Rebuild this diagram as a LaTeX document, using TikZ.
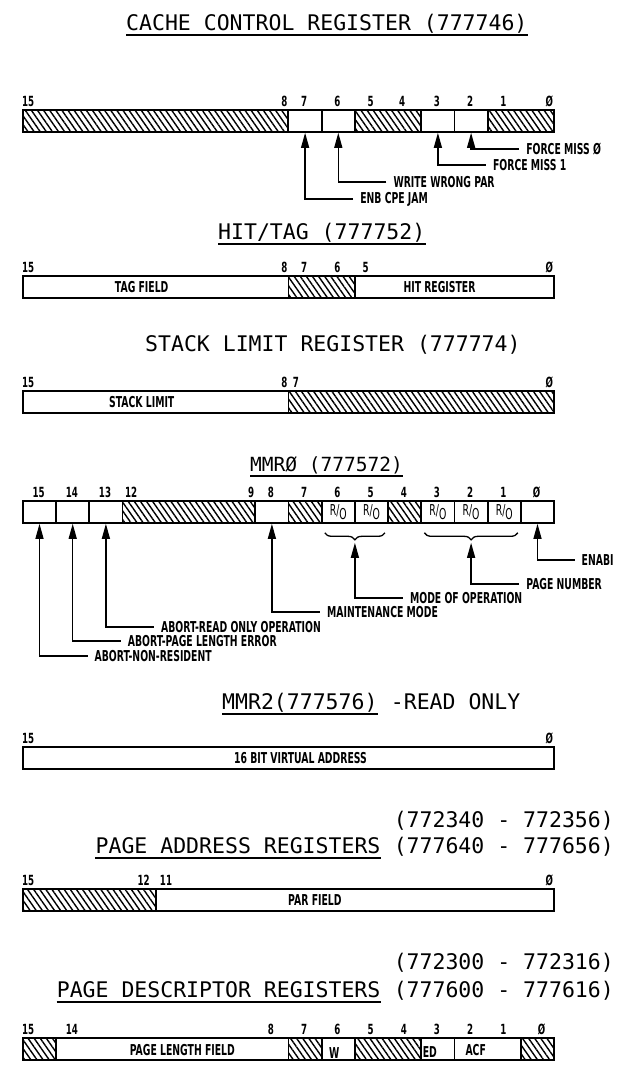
\documentclass[tikz,border=0pt]{standalone}
\usepackage{fontspec}
\newfontfamily\ttlfont{DejaVu Sans Mono}
\newfontfamily\lblfont[FakeStretch=0.62]{DejaVu Sans}
\usetikzlibrary{arrows.meta,positioning,patterns.meta,decorations.pathreplacing,calc}
\def\bx{22}
\def\bw{33.2}
\newcommand\ro{\normalfont\lblfont\fontsize{15}{16}\selectfont R/\raisebox{-4pt}{O}}
\tikzset{
  ttl/.style={font=\ttlfont\fontsize{21.5}{24}\selectfont,inner sep=0pt},
  lbl/.style={font=\lblfont\bfseries\fontsize{15}{16}\selectfont,inner sep=0pt},
  bitno/.style={font=\lblfont\bfseries\fontsize{14}{15}\selectfont,inner sep=0pt},
  fld/.style={draw,line width=1.8pt,minimum height=22pt,inner sep=0pt,anchor=north west},
  hatch/.style={fld,pattern={Lines[angle=-55,distance=5pt,line width=1.4pt]}},
  ptr/.style={line width=1.3pt,-{Triangle[length=15pt,width=8pt]}},
  uline/.style={line width=1.7pt},
  brc/.style={decorate,decoration={brace,amplitude=7pt,mirror},line width=1.3pt},
}
\begin{document}
\begin{tikzpicture}[x=1pt,y=-1pt]
\useasboundingbox (0,0) rectangle (622,1068);

% cache control register
\node[ttl,anchor=base west] (t1) at (126,30) {CACHE CONTROL REGISTER (777746)};
\draw[uline] ([yshift=-5pt]t1.base west) -- ([yshift=-5pt]t1.base east);
\foreach \hi/\lo/\sty in {15/8/hatch,7/7/fld,6/6/fld,5/4/hatch,3/3/fld,2/2/fld,1/0/hatch}
  \node[\sty,minimum width={(\hi-\lo+1)*\bw*1pt}] (cc\hi) at ({\bx+(15-\hi)*\bw},109) {};
\foreach \n/\b/\f/\an in {15/15/0/south west,8/8/1/south east,7/7/.5/south,6/6/.5/south,5/5/.5/south,4/4/.45/south,3/3/.5/south,2/2/.5/south,1/1/.5/south,Ø/0/1/south east}
  \node[bitno,anchor=\an] (ccn\b) at ({\bx+(15-\b+\f)*\bw},107) {\n};
\foreach \b/\yy/\txt in {2/149/FORCE MISS Ø,3/165/FORCE MISS 1,6/182/WRITE WRONG PAR,7/199/ENB CPE JAM}{
  \coordinate (cck\b) at (cc\b.south |- 0,\yy);
  \node[lbl,right=55pt of cck\b] (ccl\b) {\txt};
  \draw[ptr] ([xshift=-7pt]ccl\b.west) -| (cc\b.south);
}

% hit/tag
\node[ttl,anchor=base west] (t2) at (218,239) {HIT/TAG (777752)};
\draw[uline] ([yshift=-5pt]t2.base west) -- ([yshift=-5pt]t2.base east);
\foreach \hi/\lo/\sty/\txt/\dx in {15/8/fld/TAG FIELD/-14,7/6/hatch//0,5/0/fld/HIT REGISTER/-15}{
  \node[\sty,minimum width={(\hi-\lo+1)*\bw*1pt}] (ht\hi) at ({\bx+(15-\hi)*\bw},275) {};
  \node[lbl] (htt\hi) at ($(ht\hi.center)+(\dx,0)$) {\txt};
}
\foreach \n/\b/\f/\an in {15/15/0/south west,8/8/1/south east,7/7/.5/south,6/6/.5/south,5/5/.35/south,Ø/0/1/south east}
  \node[bitno,anchor=\an] (htn\b) at ({\bx+(15-\b+\f)*\bw},273) {\n};

% stack limit
\node[ttl,anchor=base west] (t3) at (145,351) {STACK LIMIT REGISTER (777774)};
\foreach \hi/\lo/\sty/\txt/\dx in {15/8/fld/STACK LIMIT/-14,7/0/hatch//0}{
  \node[\sty,minimum width={(\hi-\lo+1)*\bw*1pt}] (sl\hi) at ({\bx+(15-\hi)*\bw},390) {};
  \node[lbl] (slt\hi) at ($(sl\hi.center)+(\dx,0)$) {\txt};
}
\foreach \n/\b/\f/\an in {15/15/0/south west,8/8/1/south east,7/7/.15/south west,Ø/0/1/south east}
  \node[bitno,anchor=\an] (sln\b) at ({\bx+(15-\b+\f)*\bw},388) {\n};

% mmr0
\node[ttl,anchor=base west,font=\ttlfont\fontsize{19.5}{22}\selectfont] (t4) at (250,471) {MMRØ (777572)};
\draw[uline] ([yshift=-5pt]t4.base west) -- ([yshift=-5pt]t4.base east);
\foreach \hi/\lo/\sty/\txt in {15/15/fld/,14/14/fld/,13/13/fld/,12/9/hatch/,8/8/fld/,7/7/hatch/,6/6/fld/\ro,5/5/fld/\ro,4/4/hatch/,3/3/fld/\ro,2/2/fld/\ro,1/1/fld/\ro,0/0/fld/}
  \node[\sty,minimum width={(\hi-\lo+1)*\bw*1pt}] (m\hi) at ({\bx+(15-\hi)*\bw},500) {\txt};
\foreach \n/\b/\f/\an in {15/15/.5/south,14/14/.5/south,13/13/.5/south,12/12/.1/south west,9/9/1/south east,8/8/.5/south,7/7/.5/south,6/6/.5/south,5/5/.5/south,4/4/.5/south,3/3/.5/south,2/2/.5/south,1/1/.5/south,Ø/0/.5/south}
  \node[bitno,anchor=\an] (mn\b) at ({\bx+(15-\b+\f)*\bw},498) {\n};
\draw[brc] ([xshift=4pt,yshift=-9pt]m6.south west) -- ([xshift=-4pt,yshift=-9pt]m5.south east);
\draw[brc] ([xshift=4pt,yshift=-9pt]m3.south west) -- ([xshift=-4pt,yshift=-9pt]m1.south east);
\coordinate (br65) at ($(m6.south west)!0.5!(m5.south east)+(0,19)$);
\coordinate (br31) at ($(m3.south west)!0.5!(m1.south east)+(0,19)$);
\foreach \tgt/\yy/\gap/\txt [count=\i] in {m0.south/560/44/ENABI,br31/584/55/PAGE NUMBER,br65/598/55/MODE OF OPERATION,m8.south/612/55/MAINTENANCE MODE,m13.south/627/55/ABORT-READ ONLY OPERATION,m14.south/641/55/ABORT-PAGE LENGTH ERROR,m15.south/656/55/ABORT-NON-RESIDENT}{
  \coordinate (mk\i) at (\tgt |- 0,\yy);
  \node[lbl,right=\gap pt of mk\i] (ml\i) {\txt};
  \draw[ptr] ([xshift=-7pt]ml\i.west) -| (\tgt);
}

% mmr2
\node[ttl,anchor=base west] (t5) at (222,709) {MMR2(777576)};
\node[ttl,anchor=base west] (t5b) at ([xshift=12.94pt]t5.base east) {-READ ONLY};
\draw[uline] ([yshift=-5pt]t5.base west) -- ([yshift=-5pt]t5.base east);
\node[fld,minimum width={16*\bw*1pt}] (mm2) at (\bx,746) {};
\node[lbl] (mm2t) at ($(mm2.center)+(12,0)$) {16 BIT VIRTUAL ADDRESS};
\foreach \n/\b/\f/\an in {15/15/0/south west,Ø/0/1/south east}
  \node[bitno,anchor=\an] (mm2n\b) at ({\bx+(15-\b+\f)*\bw},744) {\n};

% page address registers
\node[ttl,anchor=base east] (t6a) at (614,827) {(772340 - 772356)};
\node[ttl,anchor=base east] (t6c) at (614,853) {(777640 - 777656)};
\node[ttl,anchor=base east] (t6b) at ([xshift=-12.94pt]t6c.base west) {PAGE ADDRESS REGISTERS};
\draw[uline] ([yshift=-5pt]t6b.base west) -- ([yshift=-5pt]t6b.base east);
\foreach \hi/\lo/\sty/\txt/\dx in {15/12/hatch//0,11/0/fld/PAR FIELD/-40}{
  \node[\sty,minimum width={(\hi-\lo+1)*\bw*1pt}] (pa\hi) at ({\bx+(15-\hi)*\bw},888) {};
  \node[lbl] (pat\hi) at ($(pa\hi.center)+(\dx,0)$) {\txt};
}
\foreach \n/\b/\f/\an in {15/15/0/south west,12/12/.85/south east,11/11/.15/south west,Ø/0/1/south east}
  \node[bitno,anchor=\an] (pan\b) at ({\bx+(15-\b+\f)*\bw},886) {\n};

% page descriptor registers
\node[ttl,anchor=base east] (t7a) at (614,969) {(772300 - 772316)};
\node[ttl,anchor=base east] (t7c) at (614,997) {(777600 - 777616)};
\node[ttl,anchor=base east] (t7b) at ([xshift=-12.94pt]t7c.base west) {PAGE DESCRIPTOR REGISTERS};
\draw[uline] ([yshift=-5pt]t7b.base west) -- ([yshift=-5pt]t7b.base east);
\foreach \hi/\lo/\sty/\txt/\dx/\dy in {15/15/hatch//0/0,14/8/fld/PAGE LENGTH FIELD/10/1,7/7/hatch//0/0,6/6/fld/W/-4/4,5/4/hatch//0/0,3/3/fld/ED/-8/3,2/1/fld/ACF/-12/1,0/0/hatch//0/0}{
  \node[\sty,minimum width={(\hi-\lo+1)*\bw*1pt}] (pd\hi) at ({\bx+(15-\hi)*\bw},1037) {};
  \node[lbl] (pdt\hi) at ($(pd\hi.center)+(\dx,\dy)$) {\txt};
}
\foreach \n/\b/\f/\an in {15/15/0/south west,14/14/.5/south,8/8/.5/south,7/7/.5/south,6/6/.5/south,5/5/.5/south,4/4/.5/south,3/3/.5/south,2/2/.5/south,1/1/.5/south,Ø/0/.65/south}
  \node[bitno,anchor=\an] (pdn\b) at ({\bx+(15-\b+\f)*\bw},1035) {\n};
\end{tikzpicture}
\end{document}
